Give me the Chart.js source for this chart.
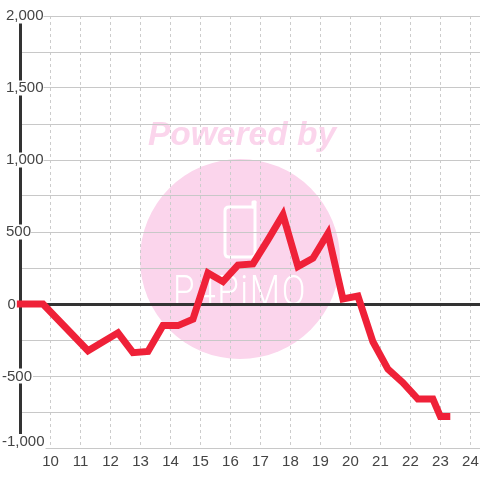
<!DOCTYPE html>
<html>
<head>
<meta charset="utf-8">
<style>
html, body { margin: 0; padding: 0; background: #fff; }
#wrap { width: 480px; height: 480px; }
</style>
<script src="https://cdn.jsdelivr.net/npm/chart.js@4"></script>
</head>
<body>
<div id="wrap"><canvas id="chart" width="480" height="480"></canvas></div>
<script>
// Sample data
const hours = [8.75, 9.75, 11.25, 12.25, 12.75, 13.25, 13.75, 14.25, 14.75, 15.25, 15.75, 16.25, 16.75, 17.25, 17.75, 18.25, 18.75, 19.25, 19.75, 20.25, 20.75, 21.25, 21.75, 22.25, 22.75, 23, 23.33];
const values = [0, 0, -325, -200, -338, -330, -150, -150, -105, 215, 155, 270, 278, 445, 620, 260, 318, 490, 35, 55, -262, -452, -546, -660, -660, -782, -782];
const hourTicks = [10, 11, 12, 13, 14, 15, 16, 17, 18, 19, 20, 21, 22, 23, 24];
const valueTicks = [-1000, -750, -500, -250, 0, 250, 500, 750, 1000, 1250, 1500, 1750, 2000];
const axisHours = [9, 9];
const axisValues = [-1000, 2000];

// Pink watermark behind the grid
const watermark = {
    id: 'watermark',
    beforeDraw(chart) {
        const c = chart.ctx;
        c.save();
        c.fillStyle = '#fbd5ec';
        c.beginPath();
        c.arc(240, 259, 100, 0, Math.PI * 2);
        c.fill();
        c.font = 'italic bold 33.5px "Liberation Sans"';
        c.fillText('Powered by', 148, 145);
        // phone outline
        c.strokeStyle = '#fff';
        c.lineWidth = 3;
        c.lineCap = 'round';
        c.lineJoin = 'round';
        c.beginPath();
        c.moveTo(255, 207);
        c.lineTo(229, 207);
        c.quadraticCurveTo(225, 207, 225, 211);
        c.lineTo(225, 253);
        c.quadraticCurveTo(225, 257, 229, 257);
        c.lineTo(251, 257);
        c.quadraticCurveTo(255, 257, 255, 253);
        c.lineTo(255, 202);
        c.stroke();
        c.beginPath();
        c.moveTo(253, 207);
        c.lineTo(253, 202);
        c.lineTo(255, 202);
        c.stroke();
        c.fillStyle = '#fff';
        c.font = '300 43px Roboto';
        c.letterSpacing = '2px';
        c.fillText('P4PiMO', 173, 305, 134);
        c.restore();
    }
};

// Labels at 0 and below sit further left than the others, and -1,000 is moved up to fit
const lowLabels = {
    id: 'lowLabels',
    afterDraw(chart) {
        const c = chart.ctx;
        const y = chart.scales.y;
        c.save();
        c.font = '15px "Liberation Sans"';
        c.textBaseline = 'middle';
        [[0, 7.5, 0], [-500, 2, 0], [-1000, 2, -6.5]].forEach(([v, x, shift]) => {
            const text = v.toLocaleString('en-US');
            const py = y.getPixelForValue(v) + shift;
            c.fillStyle = '#fff';
            c.fillRect(x, py - 7.5, c.measureText(text).width + 1, 15);
            c.fillStyle = '#444';
            c.fillText(text, x, py + 0.5);
        });
        c.restore();
    }
};

const ctx = document.getElementById('chart').getContext('2d');
const chart = new Chart(ctx, {
    type: 'line',
    data: {
        datasets: [{
            data: hours.map((h, i) => ({ x: h, y: values[i] })),
            borderColor: '#ef2138',
            borderWidth: 7,
            pointRadius: 0,
            tension: 0,
            borderJoinStyle: 'miter',
            order: 1,
            clip: false
        }, {
            data: axisHours.map((h, i) => ({ x: h, y: axisValues[i] })),
            borderColor: '#333',
            borderWidth: 3,
            pointRadius: 0,
            order: 2,
            clip: false
        }]
    },
    options: {
        responsive: false,
        animation: false,
        layout: { autoPadding: false, padding: { left: 0, right: 0, top: 16, bottom: 4 } },
        plugins: { legend: { display: false }, tooltip: { enabled: false } },
        scales: {
            x: {
                type: 'linear',
                min: 9,
                max: 24.32,
                afterBuildTicks: (axis) => { axis.ticks = hourTicks.map(v => ({ value: v })); },
                afterFit: (axis) => { axis.paddingLeft = 0; axis.paddingRight = 0; },
                grid: { color: '#ccc', lineWidth: 1, drawTicks: false },
                border: { display: false, dash: [3, 3] },
                ticks: {
                    color: '#444',
                    font: { family: '"Liberation Sans"', size: 15 },
                    padding: 5,
                    maxRotation: 0,
                    autoSkip: false
                }
            },
            y: {
                min: -1000,
                max: 2000,
                afterBuildTicks: (axis) => { axis.ticks = valueTicks.map(v => ({ value: v })); },
                afterFit: (axis) => { axis.width = 20.5; },
                grid: {
                    color: (c) => c.tick.value === 0 ? '#333' : '#c8c8c8',
                    lineWidth: (c) => c.tick.value === 0 ? 3 : 1,
                    drawTicks: false
                },
                border: { display: false },
                ticks: {
                    mirror: true,
                    padding: -14.5,
                    z: 1,
                    color: '#444',
                    autoSkip: false,
                    showLabelBackdrop: true,
                    backdropColor: '#fff',
                    backdropPadding: 0,
                    font: { family: '"Liberation Sans"', size: 15, lineHeight: 1 },
                    callback: (v) => (v > 0 && v % 500 === 0) ? v.toLocaleString('en-US') : ''
                }
            }
        }
    },
    plugins: [watermark, lowLabels]
});
</script>
</body>
</html>
